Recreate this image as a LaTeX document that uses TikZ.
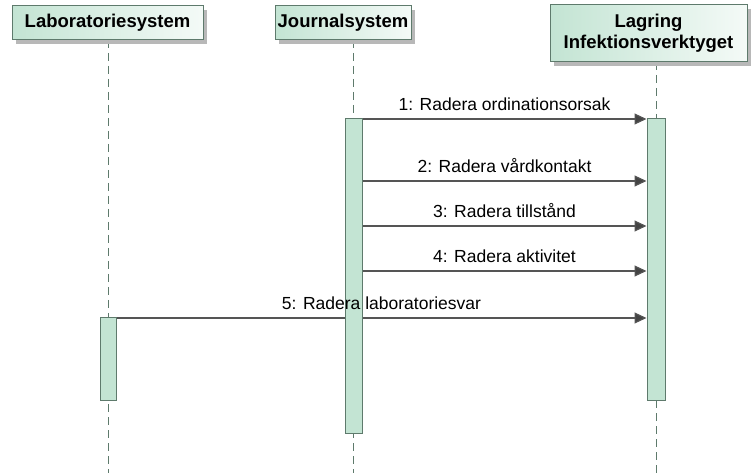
\documentclass[tikz,border=0pt]{standalone}
\usepackage{fontspec}
\setmainfont{Liberation Sans}
\usetikzlibrary{arrows.meta,shadows}
\definecolor{umlborder}{HTML}{5E7A6C}
\definecolor{umlfill}{HTML}{C3E4D3}
\definecolor{umlfade}{HTML}{F4FAF7}
\definecolor{msgline}{HTML}{555555}
\definecolor{msghead}{HTML}{444444}
\begin{document}
\begin{tikzpicture}[x=1pt,y=-1pt,
  header/.style={draw=umlborder, line width=1pt, left color=umlfill, right color=umlfade,
    inner sep=0pt, align=center, font=\fontsize{18.5}{21.5}\selectfont\bfseries,
    drop shadow={shadow xshift=4pt, shadow yshift=-4pt, fill=black!28, opacity=1}},
  lifeline/.style={draw=umlborder, line width=1pt, dash pattern=on 8pt off 5pt},
  actbar/.style={draw=umlborder, fill=umlfill, line width=1pt, inner sep=0pt},
  msg/.style={draw=msgline, line width=1.2pt, -{Triangle[length=12pt,width=11pt,fill=msghead]}},
  msglabel/.style={font=\fontsize{17.5}{20}\selectfont, anchor=base, inner sep=0pt, yshift=8pt}]
  \useasboundingbox (0,0) rectangle (753,473);

  % lifelines
  \coordinate (labtop) at (108,40);  \coordinate (labend) at (108,473);
  \coordinate (jtop)   at (353,40);  \coordinate (jend)   at (353,473);
  \coordinate (stop)   at (656,62);  \coordinate (send)   at (656,473);
  \draw[lifeline] (labtop) -- (labend);
  \draw[lifeline] (jtop) -- (jend);
  \draw[lifeline] (stop) -- (send);

  % headers
  \node[header, minimum width=191pt, minimum height=34pt] (lab) at (107.5,23) {Laboratoriesystem};
  \node[header, minimum width=136pt, minimum height=34pt] (journal) at (343,23) {Journalsystem};
  \node[header, minimum width=197pt, minimum height=57pt] (store) at (648.5,33.5) {Lagring\\Infektionsverktyget};

  % activation bar outlines, used as anchors for the messages
  \path (353.5,276) node[actbar, minimum width=17pt, minimum height=314pt, draw=none, fill=none] (jbar) {};
  \path (656,259.5) node[actbar, minimum width=18pt, minimum height=281pt, draw=none, fill=none] (sbar) {};
  \path (108,359) node[actbar, minimum width=16pt, minimum height=82pt, draw=none, fill=none] (lbar) {};

  % messages
  \coordinate (m1) at (0,119);
  \coordinate (m2) at (0,181);
  \coordinate (m3) at (0,226);
  \coordinate (m4) at (0,271);
  \coordinate (m5) at (0,318);
  \draw[msg] (jbar.east |- m1) -- (sbar.west |- m1);
  \draw[msg] (jbar.east |- m2) -- (sbar.west |- m2);
  \draw[msg] (jbar.east |- m3) -- (sbar.west |- m3);
  \draw[msg] (jbar.east |- m4) -- (sbar.west |- m4);
  \draw[msg] (lbar.east |- m5) -- (sbar.west |- m5);

  % activation bars on top of the message lines
  \node[actbar, minimum width=17pt, minimum height=314pt] at (jbar) {};
  \node[actbar, minimum width=18pt, minimum height=281pt] at (sbar) {};
  \node[actbar, minimum width=16pt, minimum height=82pt] at (lbar) {};

  % message labels
  \path (jbar.east |- m1) -- (sbar.west |- m1) node[msglabel, pos=0.5] (t1) {1: Radera ordinationsorsak};
  \path (jbar.east |- m2) -- (sbar.west |- m2) node[msglabel, pos=0.5] (t2) {2: Radera vårdkontakt};
  \path (jbar.east |- m3) -- (sbar.west |- m3) node[msglabel, pos=0.5] (t3) {3: Radera tillstånd};
  \path (jbar.east |- m4) -- (sbar.west |- m4) node[msglabel, pos=0.5] (t4) {4: Radera aktivitet};
  \path (lbar.east |- m5) -- (sbar.west |- m5) node[msglabel, pos=0.5] (t5) {5: Radera laboratoriesvar};
\end{tikzpicture}
\end{document}
